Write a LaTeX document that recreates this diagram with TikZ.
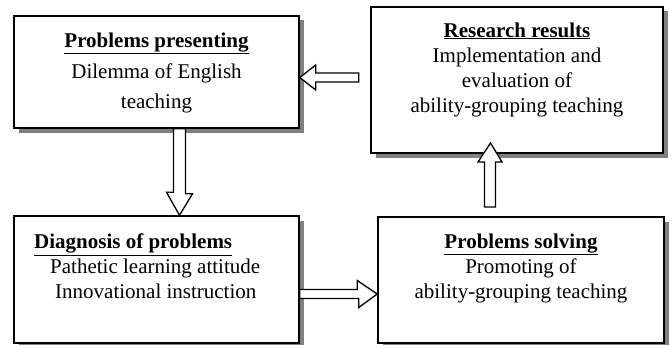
\documentclass[tikz,border=0pt]{standalone}
\usepackage{fontspec}
\setmainfont{Liberation Serif}
\usetikzlibrary{shadows}
\newcommand\stagehead[1]{\underline{\textbf{#1}}}
\tikzset{
	stage/.style={draw, line width=1.5pt, fill=white,
			drop shadow={shadow xshift=4.5pt, shadow yshift=-4.5pt, fill=black!50, opacity=1}},
	stagetext/.style={font=\fontsize{21}{25}\selectfont, align=center, inner sep=0pt},
	hollow/.style={draw, line width=1.3pt, fill=white, line join=miter}
}

\begin{document}
\begin{tikzpicture}[x=1pt,y=-1pt]
	\useasboundingbox (0,0) rectangle (672,345);

	% the four stages
	\node[stage, minimum width=285pt, minimum height=112pt] (presenting) at (156.5,72) {};
	\node[stage, minimum width=292pt, minimum height=146pt] (results) at (517,80) {};
	\node[stage, minimum width=285pt, minimum height=127pt] (diagnosis) at (156.5,279.5) {};
	\node[stage, minimum width=286pt, minimum height=126pt] (solving) at (521,280) {};

	\node[stagetext, font=\fontsize{21}{30.5}\selectfont] (presenting-txt) at (156.5,73)
		{\stagehead{Problems presenting}\\Dilemma of English\\teaching};
	\node[stagetext] (results-txt) at (517,69.5)
		{\stagehead{Research results}\\Implementation and\\evaluation of\\ability-grouping teaching};
	\node[stagetext, align=left, anchor=west] (diagnosis-txt) at (34,266.5)
		{\stagehead{Diagnosis of problems}\\\hspace*{16pt}Pathetic learning attitude\\\hspace*{21pt}Innovational instruction};
	\node[stagetext] (solving-txt) at (521,268)
		{\stagehead{Problems solving}\\Promoting of\\ability-grouping teaching};

	% hollow arrows
	\draw[hollow] (presenting.east |- 0,77.5) -- ++(16,-12.5) -- ++(0,8) -- ++(43,0) -- ++(0,9)
		-- ++(-43,0) -- ++(0,8) -- cycle;
	\draw[hollow] (179.5,0 |- diagnosis.north) -- ++(-13,-23) -- ++(7,0) -- (173.5,0 |- presenting.south)
		-- ++(12,0) -- ++(0,65) -- ++(7,0) -- cycle;
	\draw[hollow] (solving.west |- 0,294) -- ++(-20,-13.5) -- ++(0,9) -- (diagnosis.east |- 0,289.5)
		-- ++(0,9) -- ++(59,0) -- ++(0,9) -- cycle;
	\draw[hollow] (490.5,143) -- ++(-12.5,19) -- ++(6.5,0) -- ++(0,45) -- ++(11,0) -- ++(0,-45)
		-- ++(6.5,0) -- cycle;
\end{tikzpicture}
\end{document}
